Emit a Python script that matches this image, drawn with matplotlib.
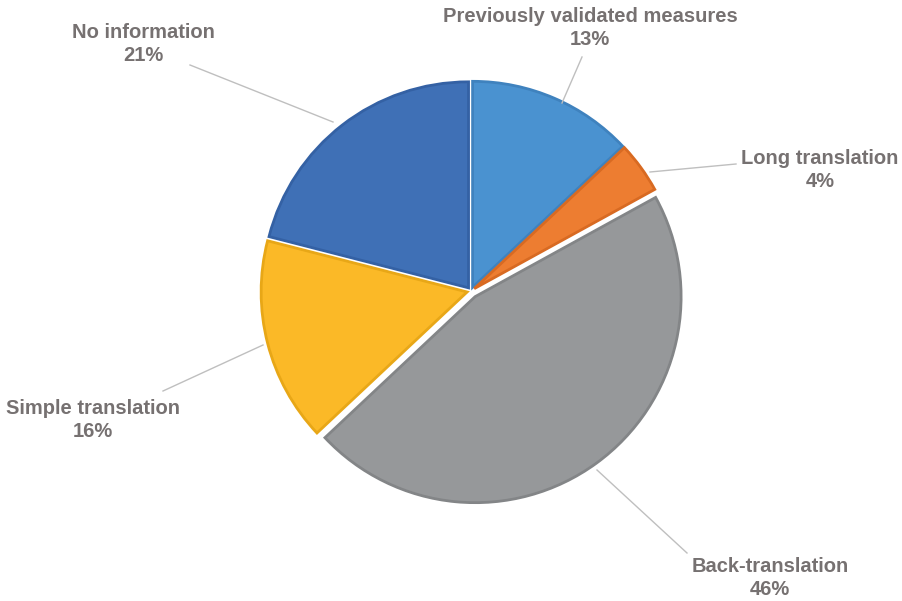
import matplotlib
matplotlib.use("Agg")
import matplotlib.pyplot as plt

# data, clockwise from 12 o'clock
labels = ["Previously validated measures", "Long translation", "Back-translation",
          "Simple translation", "No information"]
shares = [13, 4, 46, 16, 21]
colors = ["#4A92D0", "#ED7D31", "#96989A", "#FBB927", "#3F70B6"]
edges = ["#3F82BE", "#D86A22", "#838587", "#E8A717", "#3461A4"]

# label text centres and leader line ends, in pixels (x from left, y from top)
text_pos = [(590, 28), (820, 170), (770, 578), (93, 420), (143, 44)]
line_from = [(582, 57), (736, 164), (687, 553), (163, 391), (190, 65)]
line_to = [(562, 103), (650, 172), (597, 470), (263, 345), (333, 122)]

W, H = 903, 601
fig = plt.figure(figsize=(9.03, 6.01), dpi=100)
ax = fig.add_axes([0, 0, 1, 1])

# explode is in data units here (pixels)
wedges, _ = ax.pie(shares, colors=colors, startangle=90, counterclock=False,
                   center=(471, H - 291), radius=206,
                   explode=[4, 4, 7, 4, 4],
                   wedgeprops=dict(linewidth=2.0), frame=True)
for w, ec in zip(wedges, edges):
    w.set_edgecolor(ec)
ax.set_xlim(0, W)
ax.set_ylim(0, H)
ax.set_aspect("equal")
ax.axis("off")

for lab, s, (tx, ty), (x0, y0), (x1, y1) in zip(labels, shares, text_pos, line_from, line_to):
    ax.plot([x0, x1], [H - y0, H - y1], color="#BFBFBF", lw=1)
    ax.text(tx, H - ty, f"{lab}\n{s}%", ha="center", va="center",
            fontsize=14.5, fontweight="bold", color="#767171",
            family="Liberation Sans", linespacing=1.3)

fig.savefig("out.png", dpi=100)
